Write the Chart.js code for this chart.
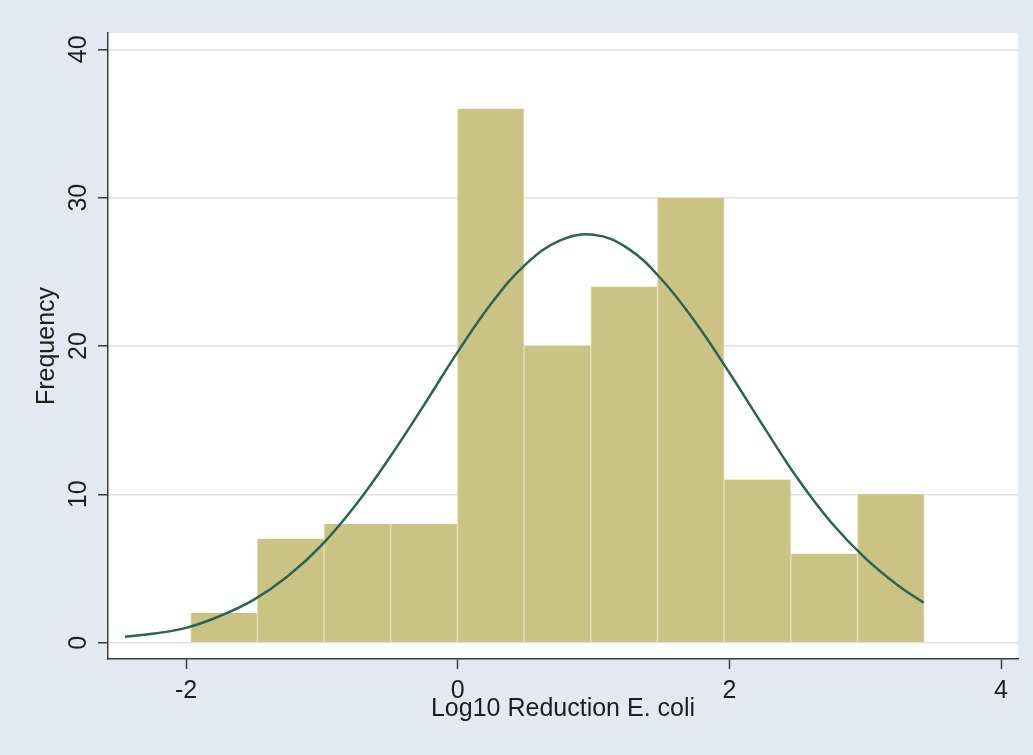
<!DOCTYPE html>
<html>
<head>
<meta charset="utf-8">
<title>Log10 Reduction E. coli</title>
<script src="https://cdn.jsdelivr.net/npm/chart.js@4.4.1/dist/chart.umd.min.js"></script>
<style>
  html, body { margin: 0; padding: 0; background: #e4e8f2; }
  #wrap { width: 1033px; height: 755px; }
</style>
</head>
<body>
<div id="wrap"><canvas id="histo" width="1033" height="755"></canvas></div>
<script>
// histogram bins (centre of each bin, width 0.491) and counts
const binCenters = [-1.721, -1.230, -0.739, -0.248, 0.243, 0.734, 1.225, 1.716, 2.207, 2.698, 3.189];
const binCounts  = [2, 7, 8, 8, 36, 20, 24, 30, 11, 6, 10];

// fitted normal curve, scaled to frequency
const curveX = [-2.45, -2.25, -2.0, -1.75, -1.5, -1.25, -1.0, -0.75, -0.5, -0.25, 0, 0.25, 0.5,
                0.75, 1.0, 1.25, 1.5, 1.75, 2.0, 2.25, 2.5, 2.75, 3.0, 3.25, 3.43];
const curveY = [0.4, 0.6, 1.0, 1.8, 2.9, 4.5, 6.6, 9.3, 12.5, 16.0, 19.6, 22.9, 25.5,
                27.1, 27.5, 26.6, 24.5, 21.6, 18.2, 14.6, 11.1, 8.1, 5.7, 3.8, 2.7];

const xTicks = [-2, 0, 2, 4];
const yTicks = [0, 10, 20, 30, 40];

const FONT = "'Liberation Sans', Arial, sans-serif";
const AXIS = '#3a3a44';

// white plot region
const plotBg = {
  id: 'plotBg',
  beforeDraw(chart) {
    const a = chart.chartArea, ctx = chart.ctx;
    ctx.save();
    ctx.fillStyle = '#ffffff';
    ctx.fillRect(a.left, a.top, a.right - a.left, a.bottom - a.top);
    ctx.restore();
  }
};

new Chart(document.getElementById('histo'), {
  type: 'bar',
  data: {
    datasets: [
      {
        type: 'line',
        order: 0,
        data: curveX.map((x, i) => ({ x, y: curveY[i] })),
        borderColor: '#2a6454',
        borderWidth: 2.5,
        pointRadius: 0,
        tension: 0.4,
        fill: false
      },
      {
        type: 'bar',
        order: 1,
        data: binCenters.map((x, i) => ({ x, y: binCounts[i] })),
        backgroundColor: '#cbc384',
        borderColor: '#e4dfb4',
        borderWidth: { left: 1, right: 1, top: 0, bottom: 0 },
        borderSkipped: false,
        barPercentage: 1,
        categoryPercentage: 1
      }
    ]
  },
  options: {
    responsive: false,
    animation: false,
    layout: { padding: { left: 0, top: 33, right: 15, bottom: 0 } },
    plugins: { legend: { display: false }, tooltip: { enabled: false } },
    scales: {
      x: {
        type: 'linear',
        offset: false,
        min: -2.575,
        max: 4.125,
        afterBuildTicks: s => { s.ticks = xTicks.map(v => ({ value: v })); },
        afterFit: s => { s.height = 96; },
        grid: { offset: false, drawOnChartArea: false, drawTicks: true, tickLength: 10, tickColor: AXIS, tickWidth: 1.5 },
        border: { display: true, color: AXIS, width: 1.5 },
        ticks: {
          autoSkip: false, maxRotation: 0, padding: 7,
          color: '#1e1e1e', font: { family: FONT, size: 25 }
        },
        title: {
          display: true, text: 'Log10 Reduction E. coli', color: '#1e1e1e',
          font: { family: FONT, size: 25 }, padding: { top: 0, bottom: 31 }
        }
      },
      y: {
        min: -1.1,
        max: 41.1,
        afterBuildTicks: s => { s.ticks = yTicks.map(v => ({ value: v })); },
        afterFit: s => { s.width = 108; },
        grid: { color: '#dfe2e8', lineWidth: 1.5, drawTicks: true, tickLength: 10, tickColor: AXIS, tickWidth: 1.5 },
        border: { display: true, color: AXIS, width: 1.5 },
        ticks: {
          minRotation: 90, maxRotation: 90, crossAlign: 'center', padding: 5,
          color: '#1e1e1e', font: { family: FONT, size: 25 }
        },
        title: {
          display: true, text: 'Frequency', color: '#1e1e1e',
          font: { family: FONT, size: 25 }, padding: { top: 32, bottom: 0 }
        }
      }
    }
  },
  plugins: [plotBg]
});
</script>
</body>
</html>
